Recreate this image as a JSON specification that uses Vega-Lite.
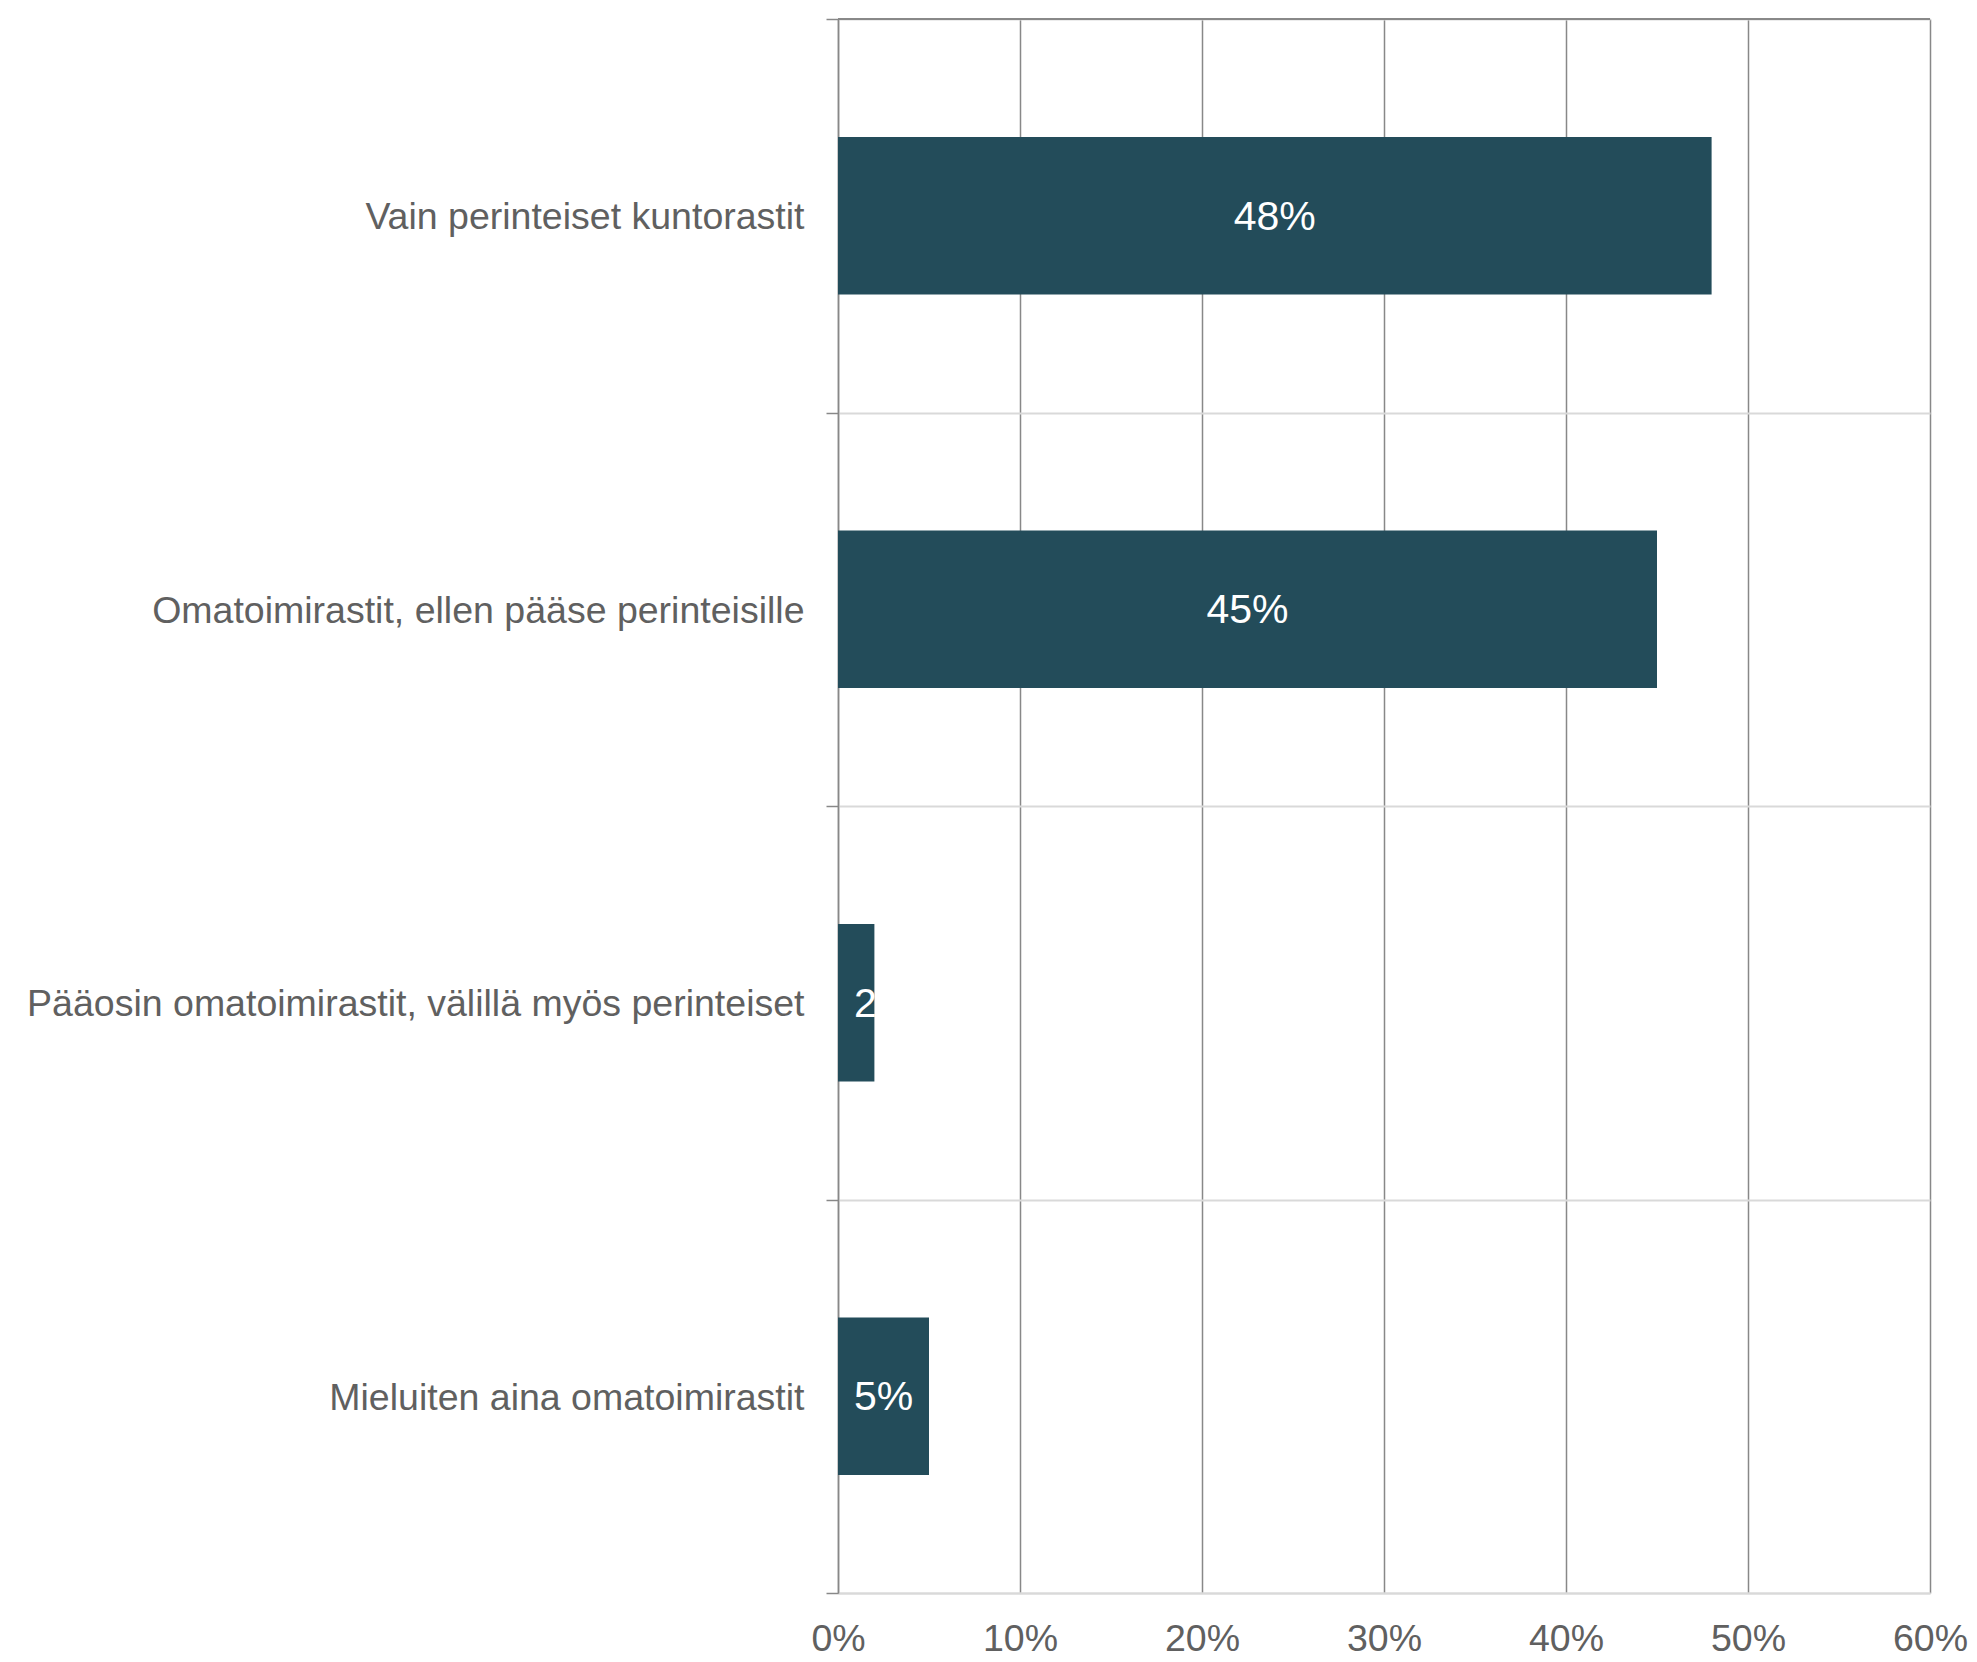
{
  "$schema": "https://vega.github.io/schema/vega-lite/v6.json",
  "width": 1092,
  "height": 1574,
  "autosize": {"type": "none"},
  "padding": {"left": 838, "top": 19, "right": 47, "bottom": 69},
  "background": "white",
  "data": {
    "values": [
      {"category": "Vain perinteiset kuntorastit", "value": 0.48},
      {"category": "Omatoimirastit, ellen pääse perinteisille", "value": 0.45},
      {"category": "Pääosin omatoimirastit, välillä myös perinteiset", "value": 0.02},
      {"category": "Mieluiten aina omatoimirastit", "value": 0.05}
    ]
  },
  "config": {
    "view": {"stroke": null},
    "font": "Liberation Sans"
  },
  "resolve": {"scale": {"x": "independent"}, "axis": {"x": "independent"}},
  "encoding": {
    "y": {
      "field": "category",
      "type": "nominal",
      "sort": null,
      "scale": {"paddingInner": 0, "paddingOuter": 0},
      "axis": {
        "title": null,
        "tickBand": "extent",
        "domainColor": "#888888",
        "domainWidth": 1.5,
        "tickColor": "#888888",
        "tickWidth": 1.5,
        "tickSize": 12,
        "gridColor": "#d9d9d9",
        "gridWidth": 2,
        "grid": true,
        "labelFont": "Liberation Sans",
        "labelFontSize": 37.5,
        "labelColor": "#606060",
        "labelPadding": 22,
        "labelOffset": 2,
        "labelLimit": 900
      }
    }
  },
  "layer": [
    {
      "mark": {"type": "bar", "color": "#234C5A", "height": {"band": 0.4}},
      "encoding": {
        "x": {
          "field": "value",
          "type": "quantitative",
          "scale": {"domain": [0, 0.6], "nice": false},
          "axis": {
            "title": null,
            "format": "%",
            "values": [0, 0.1, 0.2, 0.3, 0.4, 0.5, 0.6],
            "grid": true,
            "gridColor": "#888888",
            "gridWidth": 1.5,
            "ticks": false,
            "domainColor": "#d9d9d9",
            "domainWidth": 2,
            "labelFont": "Liberation Sans",
            "labelFontSize": 37.5,
            "labelColor": "#606060",
            "labelPadding": 27,
            "labelFlush": false
          }
        }
      }
    },
    {
      "mark": {"type": "rule", "color": "#888888", "strokeWidth": 1.5},
      "encoding": {
        "x": {"datum": 0, "scale": {"domain": [0, 0.6], "nice": false}, "axis": null},
        "x2": {"datum": 0.6},
        "y": {"value": 0}
      }
    },
    {
      "transform": [{"filter": "datum.value >= 0.03"}],
      "mark": {"type": "text", "color": "white", "fontSize": 41, "align": "center", "baseline": "middle", "dy": 2},
      "encoding": {
        "x": {"field": "value", "type": "quantitative", "scale": {"domain": [0, 1.2], "nice": false, "zero": true}, "axis": null},
        "text": {"field": "value", "type": "quantitative", "format": ".0%"}
      }
    },
    {
      "transform": [{"filter": "datum.value < 0.03"}],
      "mark": {"type": "text", "color": "white", "fontSize": 41, "align": "left", "baseline": "middle", "dx": 16, "dy": 2},
      "encoding": {
        "x": {"datum": 0, "scale": {"domain": [0, 0.6], "nice": false}, "axis": null},
        "text": {"field": "value", "type": "quantitative", "format": ".0%"}
      }
    }
  ]
}
